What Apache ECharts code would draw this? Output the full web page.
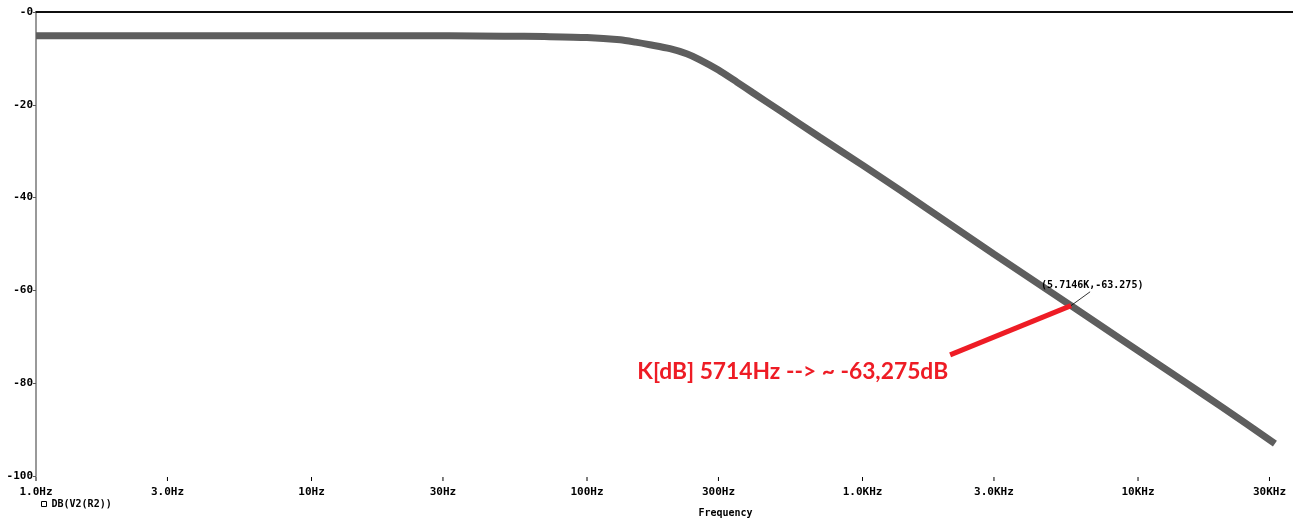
<!DOCTYPE html>
<html>
<head>
<meta charset="utf-8">
<script src="https://cdn.jsdelivr.net/npm/echarts@6/dist/echarts.min.js"></script>
<style>
html,body{margin:0;padding:0;background:#fff;}
#chart{width:1293px;height:523px;}
</style>
</head>
<body>
<div id="chart"></div>
<script>
// Frequency (Hz) and magnitude (dB)
const freqs = [1, 2, 5, 10, 20, 50, 70, 100, 132, 150, 169, 200, 230, 257, 300, 350, 400, 500, 700, 1000, 1368, 1758, 3000, 5714, 8606, 15000, 20000, 31400];
const dbValues = [-5.1, -5.1, -5.1, -5.1, -5.1, -5.2, -5.3, -5.5, -6.0, -6.5, -7.05, -7.9, -9.0, -10.3, -12.5, -15.1, -17.4, -21.2, -27.0, -33.0, -38.4, -42.8, -52.2, -63.275, -70.4, -80.0, -85.0, -93.0];
const xTickValues = [1, 3, 10, 30, 100, 300, 1000, 3000, 10000, 30000];
const xTickLabels = ['1.0Hz', '3.0Hz', '10Hz', '30Hz', '100Hz', '300Hz', '1.0KHz', '3.0KHz', '10KHz', '30KHz'];
const yTickValues = [0, -20, -40, -60, -80, -100];
const yTickLabels = ['-0', '-20', '-40', '-60', '-80', '-100'];
const seriesName = 'DB(V2(R2))';
const cursorPoint = [5714.6, -63.275];
const cursorText = '(5.7146K,-63.275)';
const leaderEnd = [6700, -60.3];
const arrowStart = [2080, -73.9];
const noteText = 'K[dB] 5714Hz --> ~ -63,275dB';
const topBorderValue = 0;

const data = freqs.map((f, i) => [f, dbValues[i]]);
const mono = '"DejaVu Sans Mono", monospace';

function nearestLabel(v, vals, labels) {
  let best = 0, bd = Infinity;
  vals.forEach((t, i) => { const d = Math.abs(Math.log(t) - Math.log(v)); if (d < bd) { bd = d; best = i; } });
  return labels[best];
}

const chart = echarts.init(document.getElementById('chart'));
chart.setOption({
  animation: false,
  backgroundColor: '#ffffff',
  grid: { left: 36, right: 0, top: 12, bottom: 43, containLabel: false },
  legend: {
    show: true,
    left: 36, top: 494,
    icon: 'rect', itemWidth: 5, itemHeight: 5, itemGap: 4,
    textStyle: { fontFamily: mono, fontWeight: 'bold', fontSize: 10, color: '#000' },
    data: [{ name: seriesName, itemStyle: { color: '#fff', borderColor: '#000', borderWidth: 1 } }]
  },
  xAxis: {
    type: 'log', logBase: 10, min: 1, max: 36520, position: 'bottom',
    name: 'Frequency', nameLocation: 'middle', nameGap: 32,
    nameTextStyle: { fontFamily: mono, fontWeight: 'bold', fontSize: 10, color: '#000', padding: [0, 0, 0, 122] },
    axisLine: { show: true, lineStyle: { color: '#000', width: 1.5 } },
    axisTick: { show: false },
    axisLabel: {
      customValues: xTickValues, margin: 1, color: '#000',
      fontFamily: mono, fontWeight: 'bold', fontSize: 11,
      formatter: v => {
        const i = xTickValues.indexOf(v);
        const lab = i >= 0 ? xTickLabels[i] : nearestLabel(v, xTickValues, xTickLabels);
        return '{tk|}\n{lb|' + lab + '}';
      },
      rich: {
        tk: { width: 1, height: 4, backgroundColor: '#000', lineHeight: 4 },
        lb: { fontFamily: mono, fontWeight: 'bold', fontSize: 11, color: '#000', lineHeight: 22 }
      }
    },
    splitLine: { show: false }, minorTick: { show: false }
  },
  yAxis: {
    type: 'value', min: -100, max: 0, interval: 20,
    axisLine: { show: true, lineStyle: { color: '#999', width: 2 } },
    axisTick: { show: true, length: 3, lineStyle: { color: '#555' } },
    axisLabel: {
      margin: 3, color: '#000', fontFamily: mono, fontWeight: 'bold', fontSize: 11,
      formatter: v => { const i = yTickValues.indexOf(v); return i >= 0 ? yTickLabels[i] : String(v); }
    },
    splitLine: { show: false }
  },
  series: [{
    name: seriesName,
    type: 'line',
    data: data,
    showSymbol: false,
    smooth: 0.25,
    itemStyle: { color: '#fff', borderColor: '#000' },
    lineStyle: { color: '#5e5e5e', width: 7 },
    markLine: {
      silent: true, symbol: ['none', 'none'], animation: false,
      data: [
        { yAxis: topBorderValue, lineStyle: { color: '#000', width: 1.5, type: 'solid' } },
        [{ coord: arrowStart, lineStyle: { color: '#ee1c25', width: 5, type: 'solid' } }, { coord: cursorPoint }],
        [{ coord: cursorPoint, lineStyle: { color: '#000', width: 0.8, type: 'solid' } }, { coord: leaderEnd }]
      ],
      label: { show: false }
    },
    markPoint: {
      symbol: 'circle', symbolSize: 0, silent: true,
      data: [
        { coord: cursorPoint, value: cursorText,
          label: { show: true, position: 'right', distance: 0, offset: [-30, -20], formatter: cursorText,
                   fontFamily: mono, fontWeight: 'bold', fontSize: 10, color: '#000' } },
        { coord: arrowStart, value: noteText,
          label: { show: true, position: 'left', distance: 2, offset: [0, 17], formatter: noteText,
                   fontFamily: 'Lato, "Noto Sans", sans-serif', fontWeight: 'bold', fontSize: 22.8, color: '#ee1c25' } }
      ]
    }
  }]
});
</script>
</body>
</html>
